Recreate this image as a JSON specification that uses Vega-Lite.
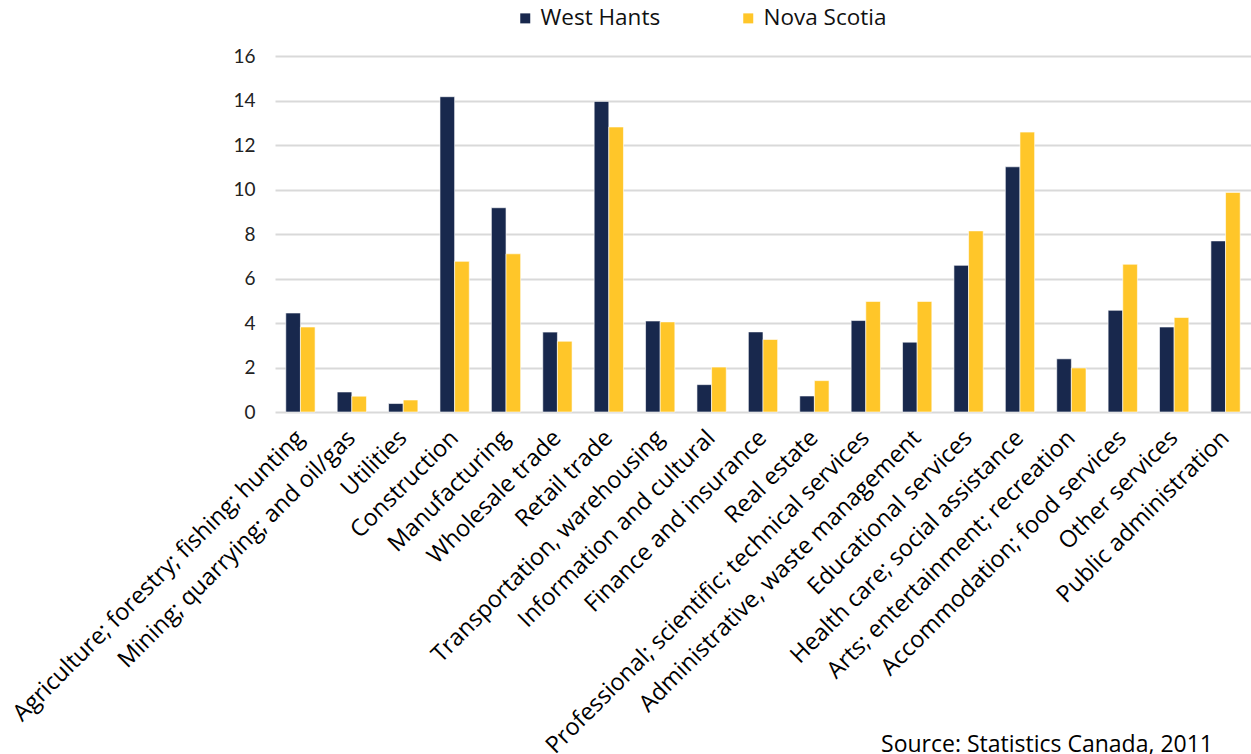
{
  "$schema": "https://vega.github.io/schema/vega-lite/v6.json",
  "autosize": {"type": "none"},
  "width": 976,
  "height": 356,
  "padding": {"left": 275, "top": 56, "right": 0, "bottom": 342},
  "background": "white",
  "config": {
    "font": "Open Sans",
    "view": {"stroke": null}
  },
  "title": {
    "text": "Source: Statistics Canada, 2011",
    "orient": "bottom",
    "anchor": "end",
    "frame": "group",
    "font": "Open Sans",
    "fontSize": 23,
    "fontWeight": "normal",
    "color": "#000000",
    "dx": -38,
    "offset": -24
  },
  "data": {
    "values": [
      {"industry": "Agriculture; forestry; fishing; hunting", "region": "West Hants", "value": 4.45},
      {"industry": "Agriculture; forestry; fishing; hunting", "region": "Nova Scotia", "value": 3.82},
      {"industry": "Mining; quarrying; and oil/gas", "region": "West Hants", "value": 0.9},
      {"industry": "Mining; quarrying; and oil/gas", "region": "Nova Scotia", "value": 0.71},
      {"industry": "Utilities", "region": "West Hants", "value": 0.38},
      {"industry": "Utilities", "region": "Nova Scotia", "value": 0.54},
      {"industry": "Construction", "region": "West Hants", "value": 14.17},
      {"industry": "Construction", "region": "Nova Scotia", "value": 6.77},
      {"industry": "Manufacturing", "region": "West Hants", "value": 9.18},
      {"industry": "Manufacturing", "region": "Nova Scotia", "value": 7.11},
      {"industry": "Wholesale trade", "region": "West Hants", "value": 3.59},
      {"industry": "Wholesale trade", "region": "Nova Scotia", "value": 3.18},
      {"industry": "Retail trade", "region": "West Hants", "value": 13.96},
      {"industry": "Retail trade", "region": "Nova Scotia", "value": 12.81},
      {"industry": "Transportation, warehousing", "region": "West Hants", "value": 4.09},
      {"industry": "Transportation, warehousing", "region": "Nova Scotia", "value": 4.05},
      {"industry": "Information and cultural", "region": "West Hants", "value": 1.23},
      {"industry": "Information and cultural", "region": "Nova Scotia", "value": 2.02},
      {"industry": "Finance and insurance", "region": "West Hants", "value": 3.6},
      {"industry": "Finance and insurance", "region": "Nova Scotia", "value": 3.26},
      {"industry": "Real estate", "region": "West Hants", "value": 0.72},
      {"industry": "Real estate", "region": "Nova Scotia", "value": 1.41},
      {"industry": "Professional; scientific; technical services", "region": "West Hants", "value": 4.11},
      {"industry": "Professional; scientific; technical services", "region": "Nova Scotia", "value": 4.97},
      {"industry": "Administrative, waste management", "region": "West Hants", "value": 3.14},
      {"industry": "Administrative, waste management", "region": "Nova Scotia", "value": 4.97},
      {"industry": "Educational services", "region": "West Hants", "value": 6.59},
      {"industry": "Educational services", "region": "Nova Scotia", "value": 8.14},
      {"industry": "Health care; social assistance", "region": "West Hants", "value": 11.02},
      {"industry": "Health care; social assistance", "region": "Nova Scotia", "value": 12.58},
      {"industry": "Arts; entertainment; recreation", "region": "West Hants", "value": 2.39},
      {"industry": "Arts; entertainment; recreation", "region": "Nova Scotia", "value": 1.98},
      {"industry": "Accommodation; food services", "region": "West Hants", "value": 4.57},
      {"industry": "Accommodation; food services", "region": "Nova Scotia", "value": 6.64},
      {"industry": "Other services", "region": "West Hants", "value": 3.82},
      {"industry": "Other services", "region": "Nova Scotia", "value": 4.25},
      {"industry": "Public administration", "region": "West Hants", "value": 7.69},
      {"industry": "Public administration", "region": "Nova Scotia", "value": 9.87}
    ]
  },
  "mark": {"type": "bar", "stroke": "white", "strokeWidth": 0.6},
  "encoding": {
    "x": {
      "field": "industry",
      "type": "nominal",
      "sort": null,
      "scale": {"paddingInner": 0.43, "paddingOuter": 0.21},
      "axis": {
        "title": null,
        "labelAngle": -45,
        "labelAlign": "right",
        "labelBaseline": "middle",
        "labelFont": "Open Sans",
        "labelFontSize": 23.5,
        "labelColor": "#000000",
        "labelPadding": 22,
        "labelOverlap": false,
        "labelLimit": 0,
        "ticks": false,
        "domain": false
      }
    },
    "xOffset": {"field": "region", "type": "nominal", "sort": ["West Hants", "Nova Scotia"]},
    "y": {
      "field": "value",
      "type": "quantitative",
      "scale": {"domain": [0, 16], "nice": false},
      "axis": {
        "title": null,
        "values": [0, 2, 4, 6, 8, 10, 12, 14, 16],
        "labelFont": "Lato",
        "labelFontSize": 19,
        "labelColor": "#222222",
        "labelPadding": 20,
        "ticks": false,
        "domain": false,
        "gridColor": "#d9d9d9",
        "gridWidth": 2.2
      }
    },
    "color": {
      "field": "region",
      "type": "nominal",
      "sort": ["West Hants", "Nova Scotia"],
      "scale": {"domain": ["West Hants", "Nova Scotia"], "range": ["#18284D", "#FFC629"]},
      "legend": {
        "title": null,
        "orient": "none",
        "direction": "horizontal",
        "legendX": 239,
        "legendY": -49,
        "symbolType": "square",
        "symbolSize": 100,
        "symbolStrokeWidth": 0,
        "labelFont": "Open Sans",
        "labelFontSize": 22.5,
        "labelColor": "#111111",
        "labelOffset": 4,
        "columnPadding": 76
      }
    }
  }
}
